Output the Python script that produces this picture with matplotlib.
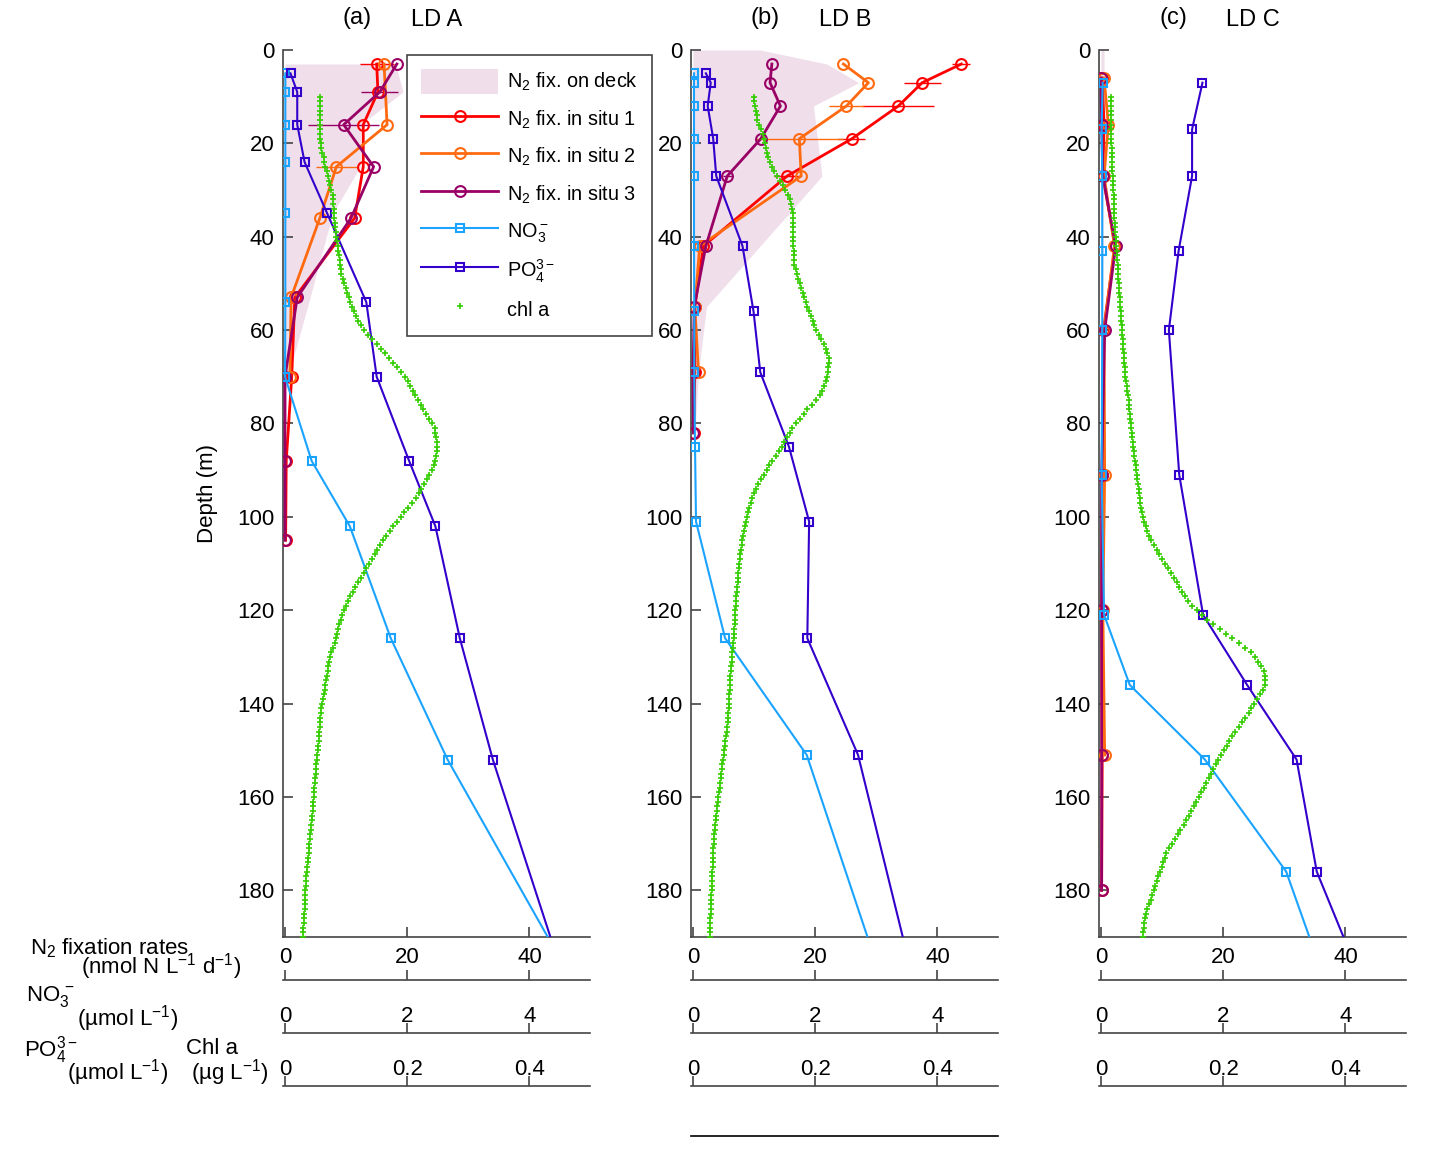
import numpy as np
import matplotlib
matplotlib.use('Agg')
import matplotlib.pyplot as plt
from matplotlib.patches import Patch
from matplotlib.lines import Line2D

plt.rcParams['font.family'] = ['Liberation Sans', 'DejaVu Sans']
plt.rcParams['mathtext.fontset'] = 'custom'
plt.rcParams['mathtext.rm'] = 'Liberation Sans'
plt.rcParams['mathtext.it'] = 'Liberation Sans:italic'
plt.rcParams['mathtext.bf'] = 'Liberation Sans:bold'
plt.rcParams['mathtext.sf'] = 'Liberation Sans'

# ---------------- DATA ----------------
panel_letters = ['(a)', '(b)', '(c)']
panel_names = ['LD A', 'LD B', 'LD C']

# N2 fixation on deck (nmol N L-1 d-1)
deckA_depth = [3, 9, 16, 25, 35, 53, 70]
deckA_rate = [18.1, 19.3, 12.4, 12.3, 7.8, 4.1, 0.5]
deckB_depth = [0, 3, 7, 12, 27, 55, 69, 82]
deckB_rate = [11.0, 21.9, 27.1, 19.7, 21.1, 2.2, 0.9, 0.3]
deckC_depth = [0, 6, 16, 27, 42, 60, 91]
deckC_rate = [0.5, 0.5, 0.3, 0.3, 0.4, 0.2, 0.1]

# N2 fixation in situ (nmol N L-1 d-1) and horizontal error
A1_depth = [3, 9, 16, 25, 36, 53, 70, 88, 105]
A1_rate = [15.0, 15.2, 12.8, 12.8, 11.4, 1.6, 1.1, 0.2, 0.1]
A1_err = [2.8, 0, 0, 0, 0, 0, 0, 0, 0]
A2_depth = [3, 16, 25, 36, 53, 70]
A2_rate = [16.2, 16.7, 8.4, 5.7, 1.0, 0.8]
A2_err = [0, 0, 3.3, 0, 0, 0]
A3_depth = [3, 9, 16, 25, 36, 53, 70, 88, 105]
A3_rate = [18.3, 15.5, 9.6, 14.5, 10.8, 2.0, 0.0, 0.0, 0.0]
A3_err = [0, 3.0, 5.8, 0, 0, 0, 0, 0, 0]

B1_depth = [3, 7, 12, 19, 27, 42, 55, 69, 82]
B1_rate = [43.9, 37.5, 33.6, 26.0, 15.4, 1.7, 0.3, 0.3, 0.1]
B1_err = [1.5, 3.0, 5.9, 2.2, 2.2, 0, 0, 0, 0]
B2_depth = [3, 7, 12, 19, 27, 42, 55, 69]
B2_rate = [24.6, 28.7, 25.1, 17.4, 17.7, 1.1, 0.3, 0.9]
B2_err = [0, 0, 2.9, 7.2, 0, 0, 0, 0]
B3_depth = [3, 7, 12, 19, 27, 42, 55, 69, 82]
B3_rate = [12.9, 12.6, 14.3, 11.1, 5.6, 2.1, 0.2, 0.0, 0.05]
B3_err = [0, 0, 0, 0, 0.7, 0, 0, 0, 0]

C1_depth = [6, 16, 27, 42, 60, 91, 120, 151, 180]
C1_rate = [0.2, 0.5, 0.3, 2.3, 0.4, 0.2, 0.1, 0.2, 0.1]
C1_err = [0] * 9
C2_depth = [6, 16, 27, 42, 60, 91, 120, 151]
C2_rate = [0.5, 1.2, 0.5, 2.2, 0.5, 0.6, 0.3, 0.6]
C2_err = [0] * 8
C3_depth = [6, 16, 27, 42, 60, 91, 120, 151, 180]
C3_rate = [0.0, 0.1, 0.3, 2.4, 0.6, 0.1, 0.1, 0.1, 0.1]
C3_err = [0] * 9

# Nutrients (umol L-1)
nutA_depth = [5, 9, 16, 24, 35, 54, 70, 88, 102, 126, 152, 200]
no3A = [0.005, 0.005, 0.005, 0.005, 0.005, 0.005, 0.0, 0.435, 1.06, 1.73, 2.66, 4.73]
po4A = [0.009, 0.020, 0.020, 0.032, 0.069, 0.133, 0.150, 0.203, 0.246, 0.286, 0.340, 0.459]
nutB_depth = [5, 7, 12, 19, 27, 42, 56, 69, 85, 101, 126, 151, 200]
no3B = [0.016, 0.016, 0.016, 0.016, 0.016, 0.016, 0.02, 0.02, 0.033, 0.049, 0.525, 1.86, 3.11]
po4B = [0.021, 0.029, 0.024, 0.033, 0.038, 0.081, 0.099, 0.110, 0.157, 0.190, 0.187, 0.270, 0.362]
nutC_depth = [7, 17, 27, 43, 60, 91, 121, 136, 152, 176, 200]
no3C = [0.027, 0.01, 0.02, 0.02, 0.02, 0.01, 0.05, 0.47, 1.70, 3.03, 3.68]
po4C = [0.166, 0.149, 0.149, 0.127, 0.111, 0.128, 0.167, 0.239, 0.320, 0.353, 0.428]

# Chl a profiles (ug L-1), 1 m bins starting at 10 m
chlA = [0.057, 0.057, 0.057, 0.057, 0.057, 0.057,
        0.057, 0.0575, 0.058, 0.058, 0.0585, 0.059,
        0.061, 0.063, 0.0645, 0.066, 0.068,
        0.070, 0.072, 0.074, 0.076, 0.078,
        0.0785, 0.079, 0.0795, 0.080, 0.0805, 0.081,
        0.082, 0.083, 0.084, 0.0855, 0.0865,
        0.0875, 0.0885, 0.0895, 0.0905, 0.091, 0.092,
        0.0945, 0.097, 0.099,
        0.1015, 0.104, 0.107, 0.110, 0.113,
        0.116, 0.120, 0.125, 0.130, 0.136,
        0.143, 0.150, 0.157, 0.164,
        0.170, 0.177, 0.184, 0.190,
        0.196, 0.201, 0.205, 0.209, 0.213,
        0.217, 0.222, 0.226, 0.231,
        0.236, 0.241, 0.245,
        0.246, 0.247, 0.248, 0.248,
        0.248, 0.247, 0.246,
        0.244, 0.240, 0.236, 0.232,
        0.227, 0.223, 0.219, 0.214,
        0.208, 0.202, 0.195,
        0.189, 0.183, 0.177, 0.171,
        0.166, 0.161, 0.156, 0.151,
        0.147, 0.143, 0.138, 0.133, 0.129,
        0.124, 0.120, 0.115, 0.111, 0.107,
        0.103, 0.100, 0.097, 0.094, 0.091,
        0.089, 0.087, 0.085, 0.083, 0.081,
        0.079, 0.076, 0.074, 0.072,
        0.071, 0.070, 0.069, 0.067, 0.066, 0.065, 0.063, 0.062, 0.060,
        0.0595, 0.059, 0.058, 0.0575, 0.057, 0.056, 0.0555, 0.055, 0.054, 0.0535,
        0.053, 0.052, 0.0515, 0.051, 0.050, 0.0495, 0.049, 0.048, 0.0475, 0.047,
        0.046, 0.0455, 0.045, 0.044, 0.0435, 0.043, 0.042, 0.0415, 0.041, 0.040,
        0.0395, 0.0385, 0.038, 0.037, 0.0365, 0.036, 0.035, 0.0345, 0.034, 0.033,
        0.033, 0.0325, 0.032, 0.032, 0.0315, 0.031, 0.0305, 0.030, 0.0295, 0.029]
chlB = [0.099, 0.100, 0.101, 0.1025, 0.104,
        0.1055, 0.108, 0.111, 0.114, 0.1155, 0.117, 0.119, 0.121,
        0.1235, 0.126, 0.1295, 0.133, 0.1375, 0.142, 0.147, 0.151, 0.155, 0.159,
        0.161, 0.162, 0.163, 0.163, 0.163, 0.163, 0.163, 0.163,
        0.1635, 0.164, 0.1645, 0.165, 0.1655, 0.166,
        0.168, 0.170, 0.172, 0.1745,
        0.177, 0.180, 0.182, 0.185,
        0.187, 0.190, 0.1925, 0.1955,
        0.198, 0.202, 0.206, 0.210, 0.2135,
        0.217, 0.220, 0.222,
        0.222, 0.2215, 0.2205, 0.2195,
        0.217, 0.214, 0.211, 0.207,
        0.201, 0.194, 0.187,
        0.181, 0.175, 0.168, 0.162,
        0.158, 0.153, 0.149,
        0.145, 0.140, 0.135, 0.130, 0.125,
        0.121, 0.116, 0.112, 0.107, 0.103,
        0.100, 0.097, 0.095, 0.092, 0.090,
        0.088, 0.086, 0.085, 0.083, 0.082,
        0.0805, 0.0795, 0.0785, 0.0775, 0.0765, 0.0755,
        0.075, 0.074, 0.0735, 0.073, 0.072,
        0.0715, 0.071, 0.0705, 0.070, 0.0695, 0.069,
        0.0685, 0.068, 0.0675, 0.067, 0.0665, 0.066,
        0.065, 0.0645, 0.064, 0.063, 0.0625, 0.0615, 0.061,
        0.0605, 0.060, 0.060, 0.0595, 0.059, 0.0585, 0.0585, 0.058,
        0.057, 0.0565, 0.0555, 0.055, 0.054,
        0.053, 0.052, 0.051, 0.050, 0.049, 0.048, 0.0475,
        0.0465, 0.0455, 0.0445, 0.0435, 0.0425, 0.0415, 0.0405,
        0.0395, 0.039, 0.038, 0.0375, 0.0365, 0.036, 0.035, 0.0345,
        0.034, 0.0335, 0.033, 0.033, 0.0325, 0.032, 0.0315, 0.0315, 0.031,
        0.031, 0.0305, 0.030, 0.030, 0.0295, 0.029, 0.029, 0.0285, 0.028, 0.028, 0.0275, 0.027]
chlC = [0.017, 0.017, 0.017, 0.017, 0.017, 0.017, 0.017, 0.017, 0.017, 0.017,
        0.017, 0.0175, 0.0175, 0.018, 0.018, 0.0185, 0.0185, 0.019, 0.0195, 0.0195, 0.020,
        0.0205, 0.021, 0.021, 0.0215, 0.022, 0.022, 0.0225, 0.023,
        0.0235, 0.024, 0.0245, 0.025, 0.0255, 0.026, 0.0265, 0.027, 0.0275, 0.028,
        0.0285, 0.029, 0.0295, 0.030, 0.0305, 0.031, 0.0315, 0.032, 0.033, 0.0335, 0.034,
        0.0345, 0.035, 0.0355, 0.036, 0.0365, 0.037, 0.0375, 0.038, 0.0385, 0.039,
        0.040, 0.041, 0.042, 0.043, 0.044, 0.045, 0.046,
        0.0465, 0.047, 0.048, 0.049, 0.0495, 0.0505, 0.051, 0.052, 0.053, 0.0535, 0.0545,
        0.0555, 0.0565, 0.0575, 0.0585, 0.0595, 0.0605, 0.0615, 0.0625, 0.0635, 0.0645,
        0.0655, 0.0665, 0.068,
        0.071, 0.0735, 0.076, 0.079, 0.082,
        0.0865, 0.091, 0.0955, 0.100, 0.105,
        0.110, 0.115, 0.119, 0.124, 0.128,
        0.133, 0.138, 0.143, 0.149,
        0.157, 0.165, 0.174, 0.183,
        0.194, 0.204, 0.215,
        0.225, 0.235, 0.245,
        0.252, 0.257, 0.262, 0.266, 0.269,
        0.269, 0.268, 0.265,
        0.260, 0.256, 0.251, 0.246, 0.242,
        0.236, 0.231, 0.226, 0.220, 0.215,
        0.210, 0.206, 0.201, 0.196, 0.192, 0.188,
        0.184, 0.180, 0.176, 0.172, 0.168, 0.164,
        0.160, 0.156, 0.152, 0.148, 0.144,
        0.139, 0.135, 0.130, 0.126, 0.121,
        0.116, 0.112, 0.107, 0.104,
        0.101, 0.099, 0.096, 0.094,
        0.091, 0.089, 0.086, 0.084,
        0.081, 0.079, 0.076, 0.074, 0.072,
        0.071, 0.070, 0.069, 0.068]

n2_ticks = [0, 20, 40]
no3_ticks = [0, 2, 4]
p_ticks = [0, 0.2, 0.4]
p_ticklabels = ['0', '0.2', '0.4']
depth_ticks = [0, 20, 40, 60, 80, 100, 120, 140, 160, 180]

# ---------------- STYLE / LAYOUT ----------------
W, H = 1432, 1151
fig = plt.figure(figsize=(W / 100, H / 100), dpi=100)
FX = lambda px: px / W
FY = lambda py: 1 - py / H

C_RED, C_ORA, C_PUR = '#FF0000', '#FF6A10', '#990066'
C_NO3, C_PO4, C_CHL = '#1AA3FF', '#3300CC', '#33CC00'
C_DECK = '#F0DEEA'
SPINE = '#444444'
FS = 16

TOP, BOT = 50, 937
LEFTS = [283, 691, 1099]
WID = 307
N2_LIM = (-0.33, 49.9)
NO3_LIM = (N2_LIM[0] / 10, N2_LIM[1] / 10)
P_LIM = (N2_LIM[0] / 100, N2_LIM[1] / 100)

panels = [
    dict(deck=(deckA_depth, deckA_rate),
         insitu=[(A1_depth, A1_rate, A1_err, C_RED), (A2_depth, A2_rate, A2_err, C_ORA),
                 (A3_depth, A3_rate, A3_err, C_PUR)],
         nut=(nutA_depth, no3A, po4A), chl=chlA),
    dict(deck=(deckB_depth, deckB_rate),
         insitu=[(B1_depth, B1_rate, B1_err, C_RED), (B2_depth, B2_rate, B2_err, C_ORA),
                 (B3_depth, B3_rate, B3_err, C_PUR)],
         nut=(nutB_depth, no3B, po4B), chl=chlB),
    dict(deck=(deckC_depth, deckC_rate),
         insitu=[(C1_depth, C1_rate, C1_err, C_RED), (C2_depth, C2_rate, C2_err, C_ORA),
                 (C3_depth, C3_rate, C3_err, C_PUR)],
         nut=(nutC_depth, no3C, po4C), chl=chlC),
]


def line_axes(left, ypx, lim, ticks, labels=None, pad=5, ticks_on=True, color=SPINE):
    a = fig.add_axes([FX(left), FY(ypx), FX(WID), 0.00001])
    a.set_xlim(lim)
    a.set_ylim(0, 1)
    a.patch.set_visible(False)
    for k in ('top', 'right', 'left'):
        a.spines[k].set_visible(False)
    a.spines['bottom'].set_color(color)
    a.spines['bottom'].set_linewidth(1.2)
    a.yaxis.set_visible(False)
    a.set_xticks(ticks)
    if labels is not None:
        a.set_xticklabels(labels)
    a.tick_params(axis='x', direction='in', length=7 if ticks_on else 0, width=1.2,
                  color=SPINE, bottom=ticks_on, top=False, labelbottom=False,
                  labeltop=labels is not None, labelsize=FS, pad=pad)
    return a


legend_axes = None
for i, (left, p) in enumerate(zip(LEFTS, panels)):
    ax = fig.add_axes([FX(left), FY(BOT), FX(WID), (BOT - TOP) / H])
    ax.set_xlim(N2_LIM)
    ax.set_ylim(190, 0)
    dd, dv = p['deck']
    ax.fill_betweenx(dd, 0, dv, color=C_DECK, lw=0, zorder=1)
    for d, v, e, c in p['insitu']:
        ax.errorbar(v, d, xerr=e, fmt='none', ecolor=c, elinewidth=1.0, capsize=0, zorder=2)
        ax.plot(v, d, '-o', color=c, lw=2.0, ms=7.8, mfc='none', mew=1.5, zorder=3)
    for k in ('top', 'right'):
        ax.spines[k].set_visible(False)
    for k in ('left', 'bottom'):
        ax.spines[k].set_color(SPINE)
        ax.spines[k].set_linewidth(1.2)
    ax.set_xticks(n2_ticks)
    ax.set_yticks(depth_ticks)
    ax.tick_params(direction='in', length=7, width=1.2, color=SPINE, labelsize=FS)
    ax.tick_params(axis='x', pad=7)
    ax.tick_params(axis='y', pad=6)

    nd, no3, po4 = p['nut']
    axn = ax.twiny()
    axn.set_xlim(NO3_LIM)
    axn.plot(no3, nd, '-s', color=C_NO3, lw=1.5, ms=5.8, mfc='none', mew=1.5)
    axp = ax.twiny()
    axp.set_xlim(P_LIM)
    axp.plot(po4, nd, '-s', color=C_PO4, lw=1.5, ms=5.8, mfc='none', mew=1.5)
    chl = p['chl']
    chl_depth = np.arange(10, 10 + len(chl))
    axp.plot(chl, chl_depth, '+', color=C_CHL, ms=4.8, mew=1.2, ls='none')
    for t in (axn, axp):
        t.xaxis.set_visible(False)
        for s in t.spines.values():
            s.set_visible(False)
    if i == 0:
        legend_axes = axp

    # stacked scale lines below the panel
    line_axes(left, 980, N2_LIM, n2_ticks)
    line_axes(left, 1033, NO3_LIM, no3_ticks, labels=['0', '2', '4'], pad=4)
    line_axes(left, 1086, P_LIM, p_ticks, labels=p_ticklabels, pad=4)
    if i == 1:
        line_axes(left, 1136, N2_LIM, [], ticks_on=False, color='black')

    # titles
    fig.text(FX(left + 74), FY(18), panel_letters[i], fontsize=FS + 1, ha='center', va='center')
    fig.text(FX(left + 154), FY(20), panel_names[i], fontsize=FS + 1, ha='center', va='center')

# legend
handles = [Patch(facecolor=C_DECK, edgecolor='none'),
           Line2D([], [], color=C_RED, lw=2.0, marker='o', ms=7.8, mfc='none', mew=1.5),
           Line2D([], [], color=C_ORA, lw=2.0, marker='o', ms=7.8, mfc='none', mew=1.5),
           Line2D([], [], color=C_PUR, lw=2.0, marker='o', ms=7.8, mfc='none', mew=1.5),
           Line2D([], [], color=C_NO3, lw=1.5, marker='s', ms=5.8, mfc='none', mew=1.5),
           Line2D([], [], color=C_PO4, lw=1.5, marker='s', ms=5.8, mfc='none', mew=1.5),
           Line2D([], [], color=C_CHL, ls='none', marker='+', ms=4.8, mew=1.2)]
labels = ['N$_2$ fix. on deck', 'N$_2$ fix. in situ 1', 'N$_2$ fix. in situ 2',
          'N$_2$ fix. in situ 3', 'NO$_3^-$', 'PO$_4^{3-}$', 'chl a']
leg = legend_axes.legend(handles, labels, loc='upper left', bbox_to_anchor=(FX(407), FY(55)),
                         bbox_transform=fig.transFigure, borderaxespad=0, fancybox=False,
                         framealpha=1, edgecolor='#444444', fontsize=14.3, handlelength=3.9,
                         handleheight=1.6, labelspacing=0.6, handletextpad=0.45, borderpad=0.7)
leg.get_frame().set_linewidth(1.2)

# left-side axis captions
fig.text(FX(30), FY(954), 'N$_2$ fixation rates', fontsize=FS, ha='left', va='baseline')
fig.text(FX(81), FY(974), '(nmol N L$^{-1}$ d$^{-1}$)', fontsize=FS, ha='left', va='baseline')
fig.text(FX(26), FY(1001), 'NO$_3^{\\,-}$', fontsize=FS, ha='left', va='baseline')
fig.text(FX(77), FY(1026), '(µmol L$^{-1}$)', fontsize=FS, ha='left', va='baseline')
fig.text(FX(24), FY(1057), 'PO$_4^{3-}$', fontsize=FS, ha='left', va='baseline')
fig.text(FX(67), FY(1079), '(µmol L$^{-1}$)', fontsize=FS, ha='left', va='baseline')
fig.text(FX(186), FY(1054), 'Chl a', fontsize=FS, ha='left', va='baseline')
fig.text(FX(191), FY(1079), '(µg L$^{-1}$)', fontsize=FS, ha='left', va='baseline')
fig.text(FX(207), FY(493), 'Depth (m)', fontsize=FS, rotation=90, ha='center', va='center')

fig.savefig('out.png', dpi=100)
